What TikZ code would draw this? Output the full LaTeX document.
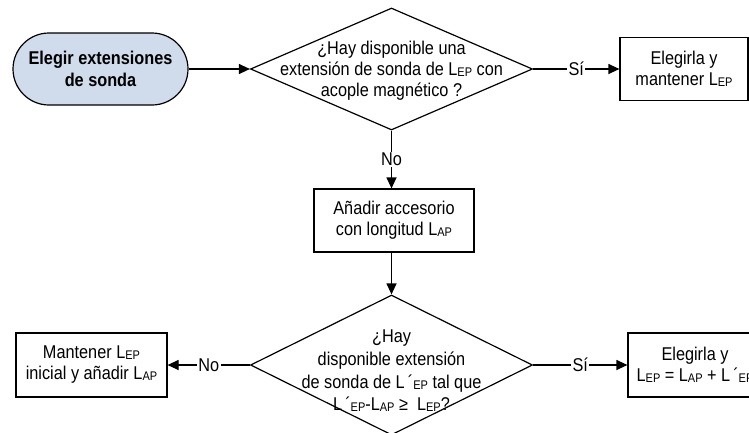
\documentclass[tikz,border=0pt]{standalone}
\usepackage{fontspec}
\setmainfont{Liberation Sans}[FakeStretch=0.88]
\usetikzlibrary{shapes.geometric,arrows.meta}
\definecolor{termfill}{RGB}{208,220,235}
% small subscript used in L_EP, L_AP
\newcommand\sbs[1]{\raisebox{-1pt}{\fontsize{12.5pt}{12.5pt}\selectfont #1}}
\begin{document}
\begin{tikzpicture}[x=1pt,y=-1pt,
  txt/.style={font=\fontsize{18.5pt}{21pt}\selectfont, align=center, inner sep=0pt},
  term/.style={draw=black, line width=1.2pt, fill=termfill, rounded corners=36pt,
    minimum width=175pt, minimum height=72pt, inner sep=0pt, align=center,
    font=\fontsize{18.5pt}{22pt}\selectfont\bfseries},
  stepbox/.style={draw=black, line width=1.2pt, rectangle, inner sep=0pt, align=center,
    font=\fontsize{18.5pt}{21pt}\selectfont},
  dia/.style={draw=black, line width=1.2pt, diamond, inner sep=0pt,
    minimum width=282pt, minimum height=122pt},
  flow/.style={draw=black, line width=1.2pt, -{Triangle[length=11pt,width=10pt]}},
  lbl/.style={fill=white, inner sep=1.5pt, font=\fontsize{18.5pt}{21pt}\selectfont}
]
\useasboundingbox (0,0) rectangle (749,432);

% start terminal
\node[term] (start) at (100.5,69) {Elegir extensiones\\de sonda};

% first decision
\node[dia] (d1) at (391.5,69) {};
\node[txt] (q1) at (391.5,71) {¿Hay disponible una\\extensión de sonda de L\sbs{EP} con\\acople magnético ?};

% result boxes, top row
\node[stepbox, minimum width=128pt, minimum height=63pt] (b1) at (684,69) {Elegirla y\\mantener L\sbs{EP}};

% accessory box
\node[stepbox, minimum width=160pt, minimum height=63pt] (b2) at (394,220.5) {Añadir accesorio\\con longitud L\sbs{AP}};

% second decision
\node[dia, minimum height=140pt] (d2) at (391.5,365) {};
\node[txt, font=\fontsize{18.5pt}{22.7pt}\selectfont] (q2) at (391.5,371) {¿Hay\\disponible extensión\\de sonda de L\,´\sbs{EP} tal que\\L\,´\sbs{EP}-L\sbs{AP} ≥~~L\sbs{EP}?};

% result boxes, bottom row
\node[stepbox, minimum width=151pt, minimum height=64pt] (b3) at (91.5,365) {Mantener L\sbs{EP}\\inicial y añadir L\sbs{AP}};
\node[stepbox, minimum width=134pt, minimum height=64pt] (b4) at (695,365) {Elegirla y\\L\sbs{EP} = L\sbs{AP} + L\,´\sbs{EP}};

% connectors
\draw[flow] (start.east) -- (d1.west);
\draw[flow] (d1.east) -- node[lbl] (l1) {Sí} (b1.west);
\draw[flow] (d1.south) -- node[lbl] (l2) {No} (d1.south |- b2.north);
\draw[flow] (d1.south |- b2.south) -- (d2.north);
\draw[flow] (d2.west) -- node[lbl] (l3) {No} (b3.east);
\draw[flow] (d2.east) -- node[lbl] (l4) {Sí} (b4.west);
\end{tikzpicture}
\end{document}
